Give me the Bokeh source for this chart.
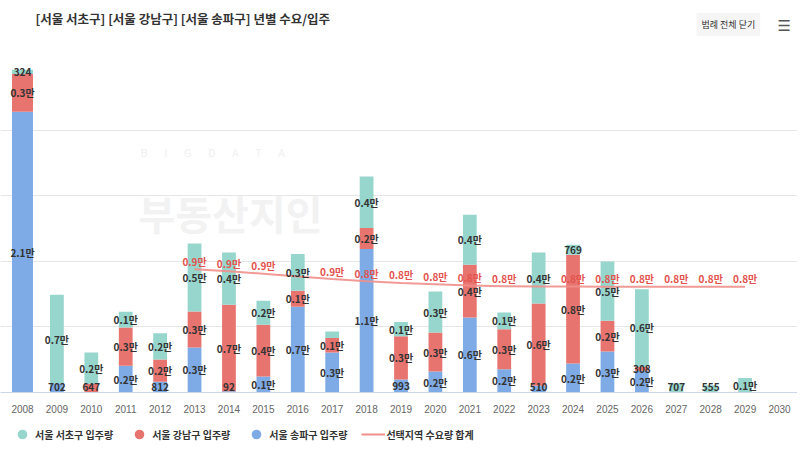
import numpy as np
from bokeh.plotting import figure
from bokeh.layouts import column
from bokeh.models import (ColumnDataSource, Label, Legend, LegendItem, FixedTicker, Range1d)
from bokeh.core.properties import value
from bokeh.embed import file_html
from bokeh.resources import INLINE

# ---------------- data ----------------
years = [str(y) for y in range(2008, 2031)]
seocho = [324, 6740, 2400, 1200, 2000, 5180, 3990, 1830, 2800, 500, 3940, 1090,
          3120, 3810, 1270, 3890, 769, 4520, 5920, 707, 555, 1100, 0]
gangnam = [2870, 0, 647, 2920, 1700, 2740, 6590, 3940, 1220, 1100, 1600, 3300,
           2970, 4020, 3050, 6270, 8280, 2340, 308, 0, 0, 0, 0]
songpa = [21400, 702, 0, 2040, 812, 3430, 92, 1220, 6530, 3050, 10930, 993,
          1600, 5720, 1780, 510, 2210, 3125, 1650, 0, 0, 0, 0]
demand = [None, None, None, None, None, 9400, 9250, 9050, 8850, 8650, 8480, 8350,
          8250, 8150, 8100, 8080, 8070, 8060, 8060, 8060, 8060, 8060, None]
series_names = ["서울 서초구 입주량", "서울 강남구 입주량", "서울 송파구 입주량"]
line_name = "선택지역 수요량 합계"
title_text = "[서울 서초구] [서울 강남구] [서울 송파구] 년별 수요/입주"
button_text = "범례 전체 닫기"
y_ticks = [0, 5000, 10000, 15000, 20000, 25000]

# ---------------- style ----------------
FONT = "Noto Sans CJK KR"
C_TEAL = "#97d6cc"
C_RED = "#e8746f"
C_BLUE = "#7eabe6"
C_LINE = "#ef8f8b"
C_LINE_TXT = "#e4524d"
W = 797
HEAD_H = 64
FRAME_H = 328
AXIS_H = 26
FOOT_H = 24
Y_MAX = 25000


def bare_fig(h):
    f = figure(width=W, height=h, x_range=Range1d(0, W), y_range=Range1d(0, h),
               output_backend="svg", toolbar_location=None,
               x_axis_location=None, y_axis_location=None,
               min_border_left=0, min_border_right=0, min_border_top=0, min_border_bottom=0)
    f.outline_line_color = None
    f.xgrid.visible = False
    f.ygrid.visible = False
    f.background_fill_color = "white"
    f.border_fill_color = "white"
    return f


# ---------------- header ----------------
head = bare_fig(HEAD_H)
head.add_layout(Label(x=35, y=HEAD_H - 18, x_units="screen", y_units="screen", text=title_text,
                      text_font=FONT, text_font_size="12.5px", text_font_style="bold",
                      text_color="#333333", text_baseline="middle"))
head.add_layout(Label(x=696, y=HEAD_H - 24, x_units="screen", y_units="screen", text=button_text,
                      text_font=FONT, text_font_size="9px", text_color="#333333",
                      text_baseline="middle", background_fill_color="#f5f5f5", padding=5))
head.add_layout(Label(x=777, y=HEAD_H - 25, x_units="screen", y_units="screen", text="☰",
                      text_font="DejaVu Sans", text_font_size="15px", text_color="#555555",
                      text_baseline="middle"))

# ---------------- main chart ----------------
n = len(years)
xs = np.arange(n)
b = np.array(songpa, float)
r = np.array(gangnam, float)
t = np.array(seocho, float)

px_unit = 34.41
x0 = -22 / px_unit
x1 = x0 + W / px_unit

p = figure(width=W, height=FRAME_H + AXIS_H,
           x_range=Range1d(x0, x1), y_range=Range1d(0, Y_MAX),
           output_backend="svg", toolbar_location=None,
           min_border_left=0, min_border_right=0,
           min_border_top=0, min_border_bottom=AXIS_H)
p.outline_line_color = None
p.background_fill_color = "white"
p.border_fill_color = "white"
p.xgrid.visible = False
p.yaxis.visible = False
p.yaxis.ticker = FixedTicker(ticks=y_ticks)
p.ygrid.ticker = FixedTicker(ticks=y_ticks)
p.ygrid.grid_line_color = "#e6e6e6"
p.ygrid.grid_line_width = 1

p.xaxis.ticker = FixedTicker(ticks=list(range(n)))
p.xaxis.major_label_overrides = {i: years[i] for i in range(n)}
p.xaxis.axis_line_color = "#ccd6eb"
p.xaxis.major_tick_line_color = None
p.xaxis.minor_tick_line_color = None
p.xaxis.major_label_text_font = "Liberation Sans"
p.xaxis.major_label_text_font_size = "10px"
p.xaxis.major_label_text_color = "#666666"
p.xaxis.major_label_standoff = 6

# watermark
p.add_layout(Label(x=140, y=FRAME_H - 87, x_units="screen", y_units="screen",
                   text="\u2003\u2002".join("BIGDATA"), text_font=FONT, text_font_size="11px",
                   text_color="#f0f0f0", text_baseline="middle", level="underlay"))
p.add_layout(Label(x=138, y=FRAME_H - 148, x_units="screen", y_units="screen",
                   text="부동산지인", text_font=FONT, text_font_size="40px",
                   text_font_style="bold", text_color="#f2f2f2", text_baseline="middle",
                   level="underlay"))

# bars
widths = [0.61 if i == 0 else 0.40 for i in range(n)]
src = ColumnDataSource(dict(x=xs, w=widths, b1=b, r1=b + r, t1=b + r + t))
p.vbar(x="x", width="w", bottom=0, top="b1", source=src, fill_color=C_BLUE, line_color=None)
p.vbar(x="x", width="w", bottom="b1", top="r1", source=src, fill_color=C_RED, line_color=None)
p.vbar(x="x", width="w", bottom="r1", top="t1", source=src, fill_color=C_TEAL, line_color=None)

# demand line
lx = [i for i in range(n) if demand[i] is not None]
ly = [demand[i] for i in lx]
p.line(x=lx, y=ly, line_color=C_LINE, line_width=2, line_alpha=0.9)


def fmt(v):
    if v >= 1000:
        return f"{v / 10000:.1f}만"
    return f"{int(round(v))}"


px_per_unit = FRAME_H / Y_MAX
thresh = 11.5 / px_per_unit
line_off = 8 / px_per_unit
min_c = 5.5 / px_per_unit

seg_x, seg_y, seg_t = [], [], []
placed = {i: [] for i in range(n)}
for i in range(n):
    bottoms = [0, b[i], b[i] + r[i]]
    vals = [b[i], r[i], t[i]]
    for bot, v in zip(bottoms, vals):
        if v <= 0:
            continue
        c = max(bot + v / 2, min_c)
        if any(abs(c - q) < thresh for q in placed[i]):
            continue
        placed[i].append(c)
        seg_x.append(i)
        seg_y.append(c)
        seg_t.append(fmt(v))

ln_x, ln_y, ln_t = [], [], []
for i in lx:
    c = demand[i] + line_off
    if any(abs(c - q) < thresh for q in placed[i]):
        continue
    ln_x.append(i)
    ln_y.append(demand[i])
    ln_t.append(fmt(demand[i]))

p.text(x=seg_x, y=seg_y, text=seg_t, text_align="center", text_baseline="middle",
       text_font=value(FONT), text_font_style="bold", text_font_size="10px",
       text_color="#333333")
p.text(x=ln_x, y=ln_y, text=ln_t, text_align="center", text_baseline="middle",
       y_offset=-8, text_font=value(FONT), text_font_style="bold", text_font_size="10px",
       text_color=C_LINE_TXT)

# ---------------- footer (legend) ----------------
foot = bare_fig(FOOT_H)
far = [-1000]
d_t = foot.scatter(far, far, marker="circle", size=10, fill_color=C_TEAL, line_color=None)
d_r = foot.scatter(far, far, marker="circle", size=10, fill_color=C_RED, line_color=None)
d_b = foot.scatter(far, far, marker="circle", size=10, fill_color=C_BLUE, line_color=None)
d_l = foot.line([-1000, -999], [-1000, -1000], line_color=C_LINE, line_width=2)
legend = Legend(items=[LegendItem(label=series_names[0], renderers=[d_t]),
                       LegendItem(label=series_names[1], renderers=[d_r]),
                       LegendItem(label=series_names[2], renderers=[d_b]),
                       LegendItem(label=line_name, renderers=[d_l])],
                orientation="horizontal", location=(10, -4), padding=0, margin=0,
                spacing=14, glyph_width=24, glyph_height=24, label_height=14,
                label_standoff=1, label_text_font=FONT, label_text_font_size="10px",
                label_text_font_style="bold", label_text_color="#333333",
                border_line_color=None, background_fill_alpha=0)
foot.add_layout(legend, "center")

layout = column(head, p, foot, spacing=0)
open("out.html", "w").write(file_html(layout, INLINE))
